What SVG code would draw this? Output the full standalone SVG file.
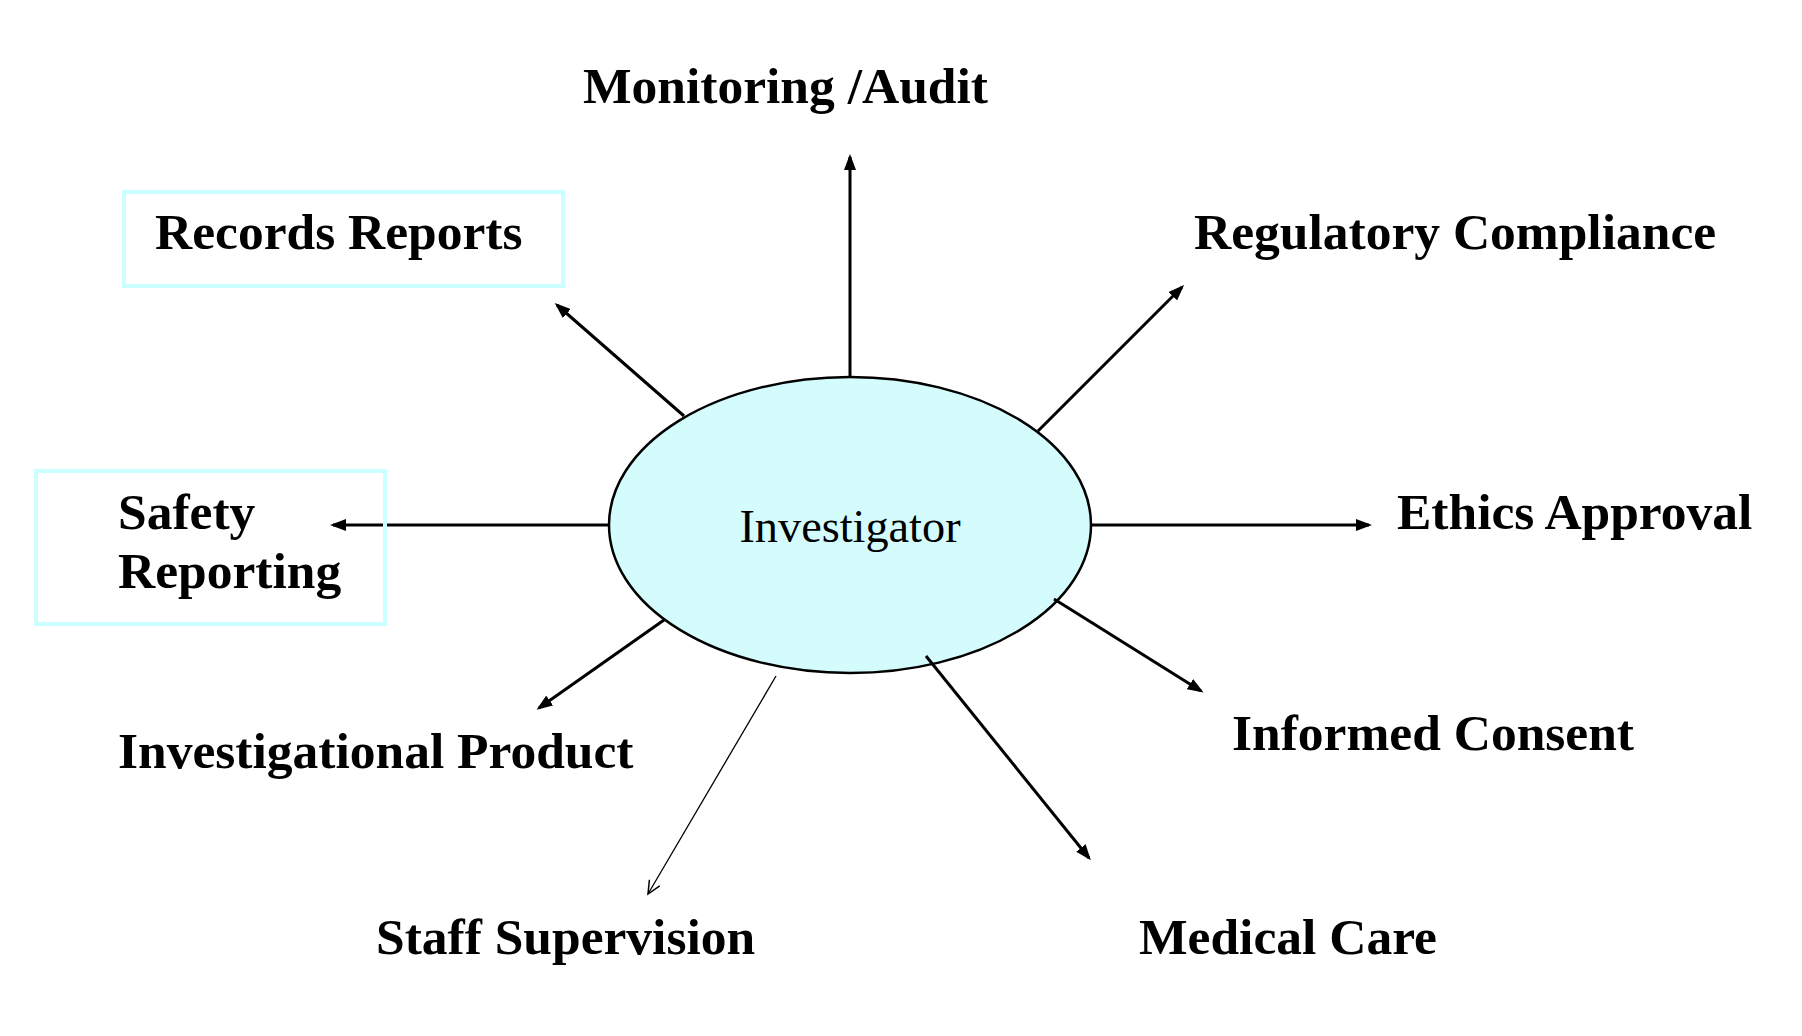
<svg xmlns="http://www.w3.org/2000/svg" width="1802" height="1036" viewBox="0 0 1802 1036">
<style>
.lbl{font-family:"Liberation Serif","Times New Roman",serif;font-weight:bold;font-size:51.5px;fill:#000}
.ctr{font-family:"Liberation Serif","Times New Roman",serif;font-size:46.3px;fill:#000}
.box{fill:none;stroke:#ccffff;stroke-width:4}
.ln{stroke:#000;stroke-width:3;fill:none}
.thin{stroke:#000;stroke-width:1.3;fill:none}
</style>
<defs>
<marker id="ah" markerUnits="userSpaceOnUse" markerWidth="16" markerHeight="12" refX="13" refY="6" orient="auto">
<path d="M0,0 L16,6 L0,12 z" fill="#000"/>
</marker>
<marker id="oh" markerUnits="userSpaceOnUse" markerWidth="16" markerHeight="14" refX="14" refY="7" orient="auto">
<path d="M1,1 L14,7 L1,13" fill="none" stroke="#000" stroke-width="1.5"/>
</marker>
</defs>
<rect width="1802" height="1036" fill="#fff"/>
<g id="investigator">
<ellipse cx="850" cy="525" rx="241" ry="148" fill="#d5fcfd" stroke="#000" stroke-width="2.5"/>
<text class="ctr" x="850" y="542" text-anchor="middle">Investigator</text>
</g>
<g id="connectors">
<line class="ln" x1="850" y1="377" x2="850" y2="157" marker-end="url(#ah)"/>
<line class="ln" x1="684" y1="416" x2="557" y2="305" marker-end="url(#ah)"/>
<line class="ln" x1="1038" y1="431" x2="1182" y2="287" marker-end="url(#ah)"/>
<line class="ln" x1="609" y1="525" x2="333" y2="525" marker-end="url(#ah)"/>
<line class="ln" x1="1091" y1="525" x2="1369" y2="525" marker-end="url(#ah)"/>
<line class="ln" x1="1054" y1="599" x2="1201" y2="691" marker-end="url(#ah)"/>
<line class="ln" x1="926" y1="656" x2="1089" y2="858" marker-end="url(#ah)"/>
<line class="thin" x1="776" y1="676" x2="648" y2="894" marker-end="url(#oh)"/>
<line class="ln" x1="664" y1="620" x2="539" y2="708" marker-end="url(#ah)"/>
</g>
<g id="monitoring">
<text class="lbl" x="583" y="103">Monitoring /Audit</text>
</g>
<g id="records">
<rect class="box" x="124" y="192" width="439" height="94"/>
<text class="lbl" x="155" y="249">Records Reports</text>
</g>
<g id="regulatory">
<text class="lbl" x="1194" y="249">Regulatory Compliance</text>
</g>
<g id="safety">
<rect class="box" x="36" y="471" width="349" height="153"/>
<text class="lbl" x="118" y="529">Safety</text>
<text class="lbl" x="118" y="588">Reporting</text>
</g>
<g id="ethics">
<text class="lbl" x="1397" y="529">Ethics Approval</text>
</g>
<g id="consent">
<text class="lbl" x="1232" y="750">Informed Consent</text>
</g>
<g id="medical">
<text class="lbl" x="1139" y="954">Medical Care</text>
</g>
<g id="staff">
<text class="lbl" x="376" y="954">Staff Supervision</text>
</g>
<g id="product">
<text class="lbl" x="118" y="768">Investigational Product</text>
</g>
</svg>
